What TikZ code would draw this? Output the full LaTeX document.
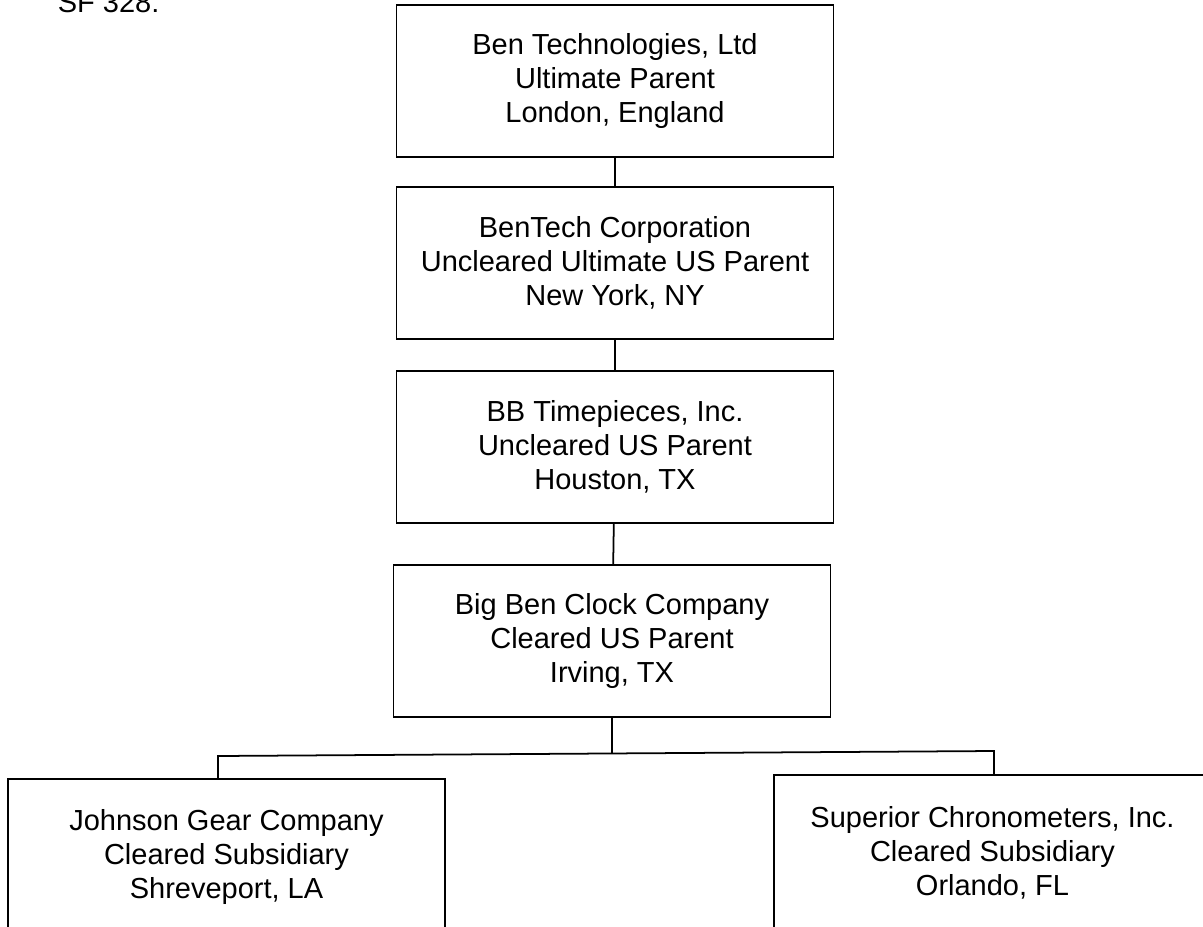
\documentclass[tikz,border=0pt]{standalone}
\usepackage{fontspec}
\setmainfont{Liberation Sans}
\begin{document}
\begin{tikzpicture}[x=0.02cm, y=-0.02cm, line width=1pt,
  firm/.style={draw, rectangle, align=center, minimum width=8.74cm, minimum height=3.04cm,
    inner sep=0pt, font=\fontsize{16.5}{19.3}\selectfont},
  subfirm/.style={firm, minimum height=3.12cm}]
\useasboundingbox (0,0) rectangle (1203,926);
\clip (0,0) rectangle (1203,926);
\node[anchor=base west, inner sep=0pt, font=\fontsize{16.5}{19.3}\selectfont] (formref) at (57,13) {SF 328:};
% ownership chain
\node[firm] (ultimate) at (615,81) {Ben Technologies, Ltd\\Ultimate Parent\\London, England};
\node[firm] (bentech) at (615,263) {BenTech Corporation\\Uncleared Ultimate US Parent\\New York, NY};
\node[firm] (timepieces) at (615,447) {BB Timepieces, Inc.\\Uncleared US Parent\\Houston, TX};
\node[firm] (bigben) at (612,641) {Big Ben Clock Company\\Cleared US Parent\\Irving, TX};
\draw (ultimate) -- (bentech);
\draw (bentech) -- (timepieces);
\draw (timepieces) -- (bigben);
% subsidiaries
\node[subfirm] (johnson) at (226.5,857) {Johnson Gear Company\\Cleared Subsidiary\\Shreveport, LA};
\node[subfirm] (superior) at (992.5,853) {Superior Chronometers, Inc.\\Cleared Subsidiary\\Orlando, FL};
\coordinate (busL) at (218,756);
\coordinate (busR) at (994,751);
\coordinate (busM) at (612,753.5);
\draw (bigben.south) -- (busM);
\draw (johnson.north -| busL) -- (busL) -- (busR) -- (busR |- superior.north);
\end{tikzpicture}
\end{document}
